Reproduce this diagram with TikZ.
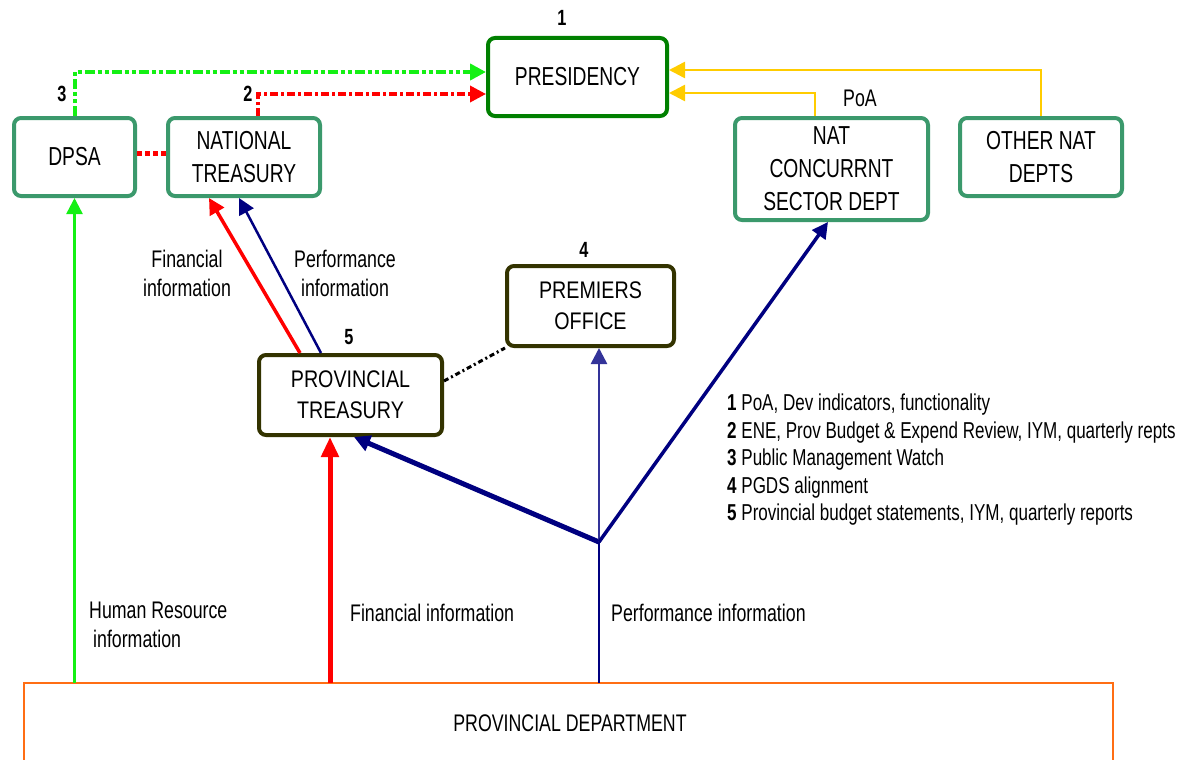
\documentclass[tikz,border=0pt]{standalone}
\usepackage{fontspec}
\setmainfont[FakeStretch=0.74]{Liberation Sans}
\newfontfamily\provf[FakeStretch=0.82]{Liberation Sans}
\usetikzlibrary{arrows.meta,calc}
\definecolor{natgreen}{RGB}{59,153,108}
\definecolor{presgreen}{RGB}{0,128,0}
\definecolor{olivedark}{RGB}{51,51,0}
\definecolor{limeg}{RGB}{20,240,20}
\definecolor{navyb}{RGB}{0,0,128}
\definecolor{midblue}{RGB}{51,51,153}
\definecolor{yell}{RGB}{255,204,0}
\definecolor{orng}{RGB}{255,110,20}
\definecolor{redr}{RGB}{255,0,0}
\begin{document}
\begin{tikzpicture}[x=1pt,y=-1pt,
  natbox/.style={draw=natgreen, line width=4pt, rounded corners=7pt, fill=white, align=center, inner sep=0pt,
    font=\fontsize{26}{33}\selectfont},
  presbox/.style={natbox, draw=presgreen},
  provbox/.style={natbox, draw=olivedark, font=\provf\fontsize{24}{31}\selectfont},
  numlab/.style={font=\bfseries\fontsize{22}{24}\selectfont, inner sep=0pt},
  lab/.style={font=\fontsize{24}{29}\selectfont, inner sep=0pt},
  tip/.style={-{Triangle[length=16pt,width=16pt]}},
  bigtip/.style={-{Triangle[length=20pt,width=17pt]}},
]
\useasboundingbox (0,0) rectangle (1186,760);

% boxes
\node[presbox, minimum width=179, minimum height=78] (pres) at (577.5,77) {PRESIDENCY};
\node[natbox, minimum width=121, minimum height=78] (dpsa) at (74.5,157) {DPSA};
\node[natbox, minimum width=152, minimum height=78] (nt) at (244,157) {NATIONAL\\TREASURY};
\node[natbox, minimum width=193, minimum height=102] (natc) at (831.5,169) {NAT\\CONCURRNT\\SECTOR DEPT};
\node[natbox, minimum width=162, minimum height=78] (other) at (1041,157) {OTHER NAT\\DEPTS};
\node[provbox, minimum width=167, minimum height=80] (po) at (590.5,306) {PREMIERS\\OFFICE};
\node[provbox, minimum width=183, minimum height=80] (pt) at (350.5,395) {PROVINCIAL\\TREASURY};

% provincial department (open at the bottom)
\coordinate (dtop) at (0,683);
\draw[orng, line width=2.5pt] (24,770) -- (24,683) -- (1113,683) -- (1113,770);
\node[lab] (dept) at (570,723) {PROVINCIAL DEPARTMENT};

% number labels
\node[numlab] (n1) at (562,18) {1};
\node[numlab] (n3) at (62,94) {3};
\node[numlab] (n2) at (248,94) {2};
\node[numlab] (n4) at (584,250) {4};
\node[numlab] (n5) at (349,337) {5};
\node[lab] (poa) at (860,98) {PoA};

% text labels
\node[lab, align=center] (finup) at (187,273) {Financial\\information};
\node[lab, align=center] (perfup) at (345,273) {Performance\\information};
\node[lab, align=left, anchor=west] (hr) at (89,625) {Human Resource\\\hspace{4pt}information};
\node[lab, anchor=west] (finlow) at (350,613) {Financial information};
\node[lab, anchor=west] (perflow) at (611,613) {Performance information};
\node[anchor=north west, align=left, inner sep=0pt, font=\fontsize{23}{27.5}\selectfont] (legend) at (727,394)
 {\textbf{1} PoA, Dev indicators, functionality\\
  \textbf{2} ENE, Prov Budget \& Expend Review, IYM, quarterly repts\\
  \textbf{3} Public Management Watch\\
  \textbf{4} PGDS alignment\\
  \textbf{5} Provincial budget statements, IYM, quarterly reports};

% top connectors
\draw[limeg, line width=4pt, dash pattern=on 10pt off 3pt on 4pt off 3pt on 4pt off 3pt, tip]
  (dpsa.north) |- ([yshift=5pt]pres.west);
\draw[redr, line width=3.5pt, dash pattern=on 8pt off 3pt on 3pt off 3pt, tip]
  ([xshift=14pt]nt.north) |- ([yshift=-17pt]pres.west);
\draw[redr, line width=5pt, dash pattern=on 5pt off 3pt]
  ([yshift=4pt]dpsa.east) -- ([yshift=4pt]nt.west);
\draw[yell, line width=2.5pt, tip] (other.north) |- ([yshift=7pt]pres.east);
\draw[yell, line width=2.5pt, tip] ([xshift=-16.5pt]natc.north) |- ([yshift=-16pt]pres.east);

% provincial treasury to national treasury
\draw[redr, line width=3.5pt, tip] ([xshift=-50.5pt]pt.north) -- ([xshift=-35pt]nt.south);
\draw[navyb, line width=2.5pt, tip] ([xshift=-29.5pt]pt.north) -- ([xshift=-5pt]nt.south);
\draw[black, line width=3pt, dash pattern=on 5pt off 3pt on 2pt off 3pt] ([yshift=14pt]pt.east) -- (po.south west);

% from provincial department
\draw[limeg, line width=2.5pt, tip] (dpsa.south |- dtop) -- (dpsa.south);
\draw[redr, line width=5pt, bigtip] ([xshift=-20.5pt]pt.south |- dtop) -- ([xshift=-20.5pt]pt.south);
\coordinate (J) at (599,542);
\draw[navyb, line width=2.5pt] (J |- dtop) -- (J);
\draw[navyb, line width=5pt, tip] (J) -- ([xshift=3.5pt]pt.south);
\draw[midblue, line width=2.5pt, tip] (J) -- (J |- po.south);
\draw[navyb, line width=3.5pt, tip] (J) -- ([xshift=-3.5pt]natc.south);
\end{tikzpicture}
\end{document}
